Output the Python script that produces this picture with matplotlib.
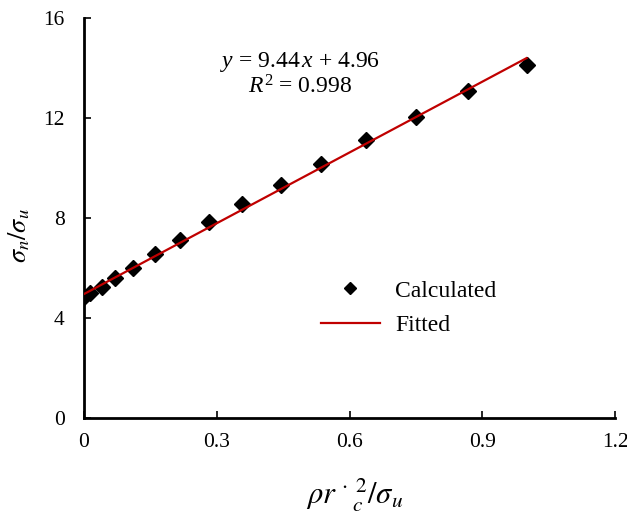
import matplotlib
matplotlib.use("Agg")
import matplotlib.pyplot as plt
import numpy as np

plt.rcParams['font.family'] = ['Liberation Serif', 'DejaVu Serif']
plt.rcParams['mathtext.fontset'] = 'custom'
plt.rcParams['mathtext.rm'] = 'Liberation Serif'
plt.rcParams['mathtext.it'] = 'Liberation Serif:italic'

# Data
x_calc = [0.0, 0.014, 0.04, 0.07, 0.11, 0.16, 0.217, 0.283, 0.357, 0.445,
          0.536, 0.637, 0.75, 0.868, 1.0]
y_calc = [4.85, 5.0, 5.23, 5.59, 6.0, 6.55, 7.12, 7.84, 8.56, 9.32,
          10.16, 11.12, 12.04, 13.08, 14.12]
slope, intercept = 9.44, 4.96
fit_range = [0.0, 1.0]
xticks = [0, 0.3, 0.6, 0.9, 1.2]
xtick_labels = ["0", "0.3", "0.6", "0.9", "1.2"]
yticks = [0, 4, 8, 12, 16]

fig = plt.figure(figsize=(6.27, 5.17), dpi=100)
ax = fig.add_axes([0.134, 0.1915, 0.847, 0.7735])

ax.plot(x_calc, y_calc, linestyle='none', marker='D', markersize=8,
        color='black', label='Calculated', zorder=3)
xf = np.array(fit_range)
ax.plot(xf, slope * xf + intercept, color='#C00000', linewidth=1.6,
        label='Fitted', zorder=4)

ax.set_xlim(0, 1.2)
ax.set_ylim(0, 16)
ax.set_xticks(xticks)
ax.set_xticklabels(xtick_labels)
ax.set_yticks(yticks)
for s in ['top', 'right']:
    ax.spines[s].set_visible(False)
for s in ['left', 'bottom']:
    ax.spines[s].set_linewidth(2)
ax.tick_params(direction='in', length=5, width=1.2, labelsize=15.5)
ax.tick_params(axis='y', pad=14)
ax.tick_params(axis='x', pad=11)

ax.set_ylabel(r'$\sigma_n/\sigma_u$', fontsize=19, math_fontfamily='stix')
ax.yaxis.set_label_coords(-0.098, 0.457)
ax.set_xlabel(r'$\rho r\;{}^{\cdot}\,{}_{c}^{\,2}/\sigma_u$', fontsize=22,
              math_fontfamily='stix')
ax.xaxis.set_label_coords(0.51, -0.145)

ax.text(0.406, 0.89, r'$y$ = 9.44$\,x$ + 4.96', transform=ax.transAxes,
        ha='center', va='center', fontsize=17)
ax.text(0.406, 0.827, r'$R^2$ = 0.998', transform=ax.transAxes,
        ha='center', va='center', fontsize=17)

ax.legend(loc='upper left', bbox_to_anchor=(0.446, 0.345), frameon=False,
          fontsize=17, handlelength=2.5, handletextpad=0.65,
          labelspacing=0.55, markerscale=0.8, borderpad=0, borderaxespad=0)

fig.savefig('out.png', dpi=100)
